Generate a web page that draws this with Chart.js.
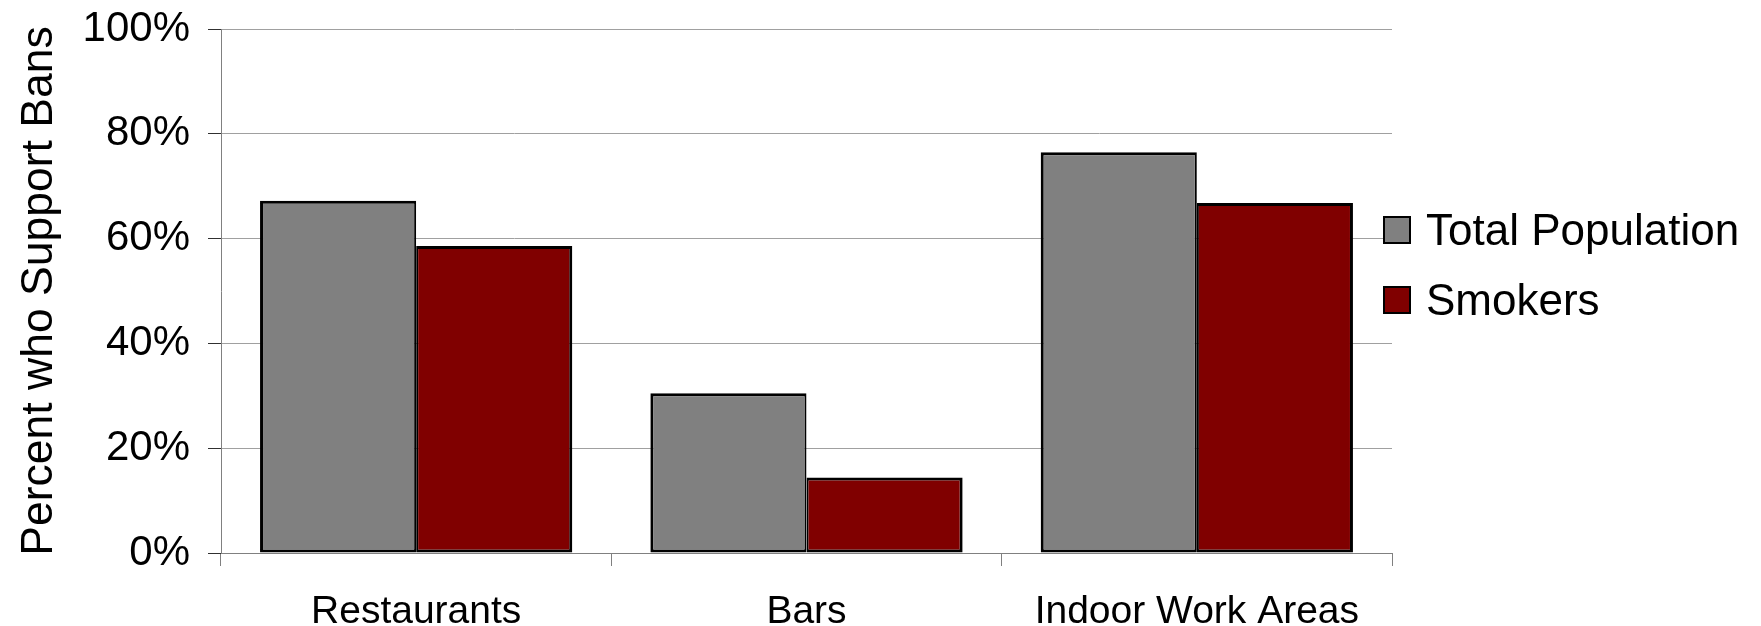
<!DOCTYPE html>
<html>
<head>
<meta charset="utf-8">
<title>Support for Smoking Bans</title>
<script src="https://cdn.jsdelivr.net/npm/chart.js@4.4.1/dist/chart.umd.min.js"></script>
<style>
  html, body { margin: 0; padding: 0; background: #ffffff; }
  #wrap { width: 1761px; height: 626px; position: relative; }
  canvas { display: block; }
</style>
</head>
<body>
<div id="wrap"><canvas id="chart" width="1761" height="626"></canvas></div>
<script>
// Categories and series values (percent who support bans)
const categories = ['Restaurants', 'Bars', 'Indoor Work Areas'];
const seriesNames = ['Total Population', 'Smokers'];
const totalPopulation = [67.2, 30.5, 76.5];
const smokers = [58.6, 14.4, 66.8];
const yTickValues = [0, 20, 40, 60, 80, 100];
const axisTitle = 'Percent who Support Bans';

const FONT = '"Liberation Sans", Arial, Helvetica, sans-serif';
const GRAY = '#808080';
const MAROON = '#800000';

// Legend drawn to the right of the plot, overlapping its edge slightly
const sideLegend = {
  id: 'sideLegend',
  afterDraw(chart, args, opts) {
    const ctx = chart.ctx;
    ctx.save();
    ctx.font = opts.fontSize + 'px ' + FONT;
    ctx.textBaseline = 'alphabetic';
    ctx.textAlign = 'left';
    chart.data.datasets.forEach((ds, i) => {
      const y = opts.top + i * opts.rowGap;
      ctx.fillStyle = ds.backgroundColor;
      ctx.fillRect(opts.left, y, opts.box, opts.box);
      ctx.lineWidth = 2;
      ctx.strokeStyle = '#000000';
      ctx.strokeRect(opts.left + 1, y + 1, opts.box - 2, opts.box - 2);
      ctx.fillStyle = '#000000';
      ctx.fillText(ds.label, opts.left + opts.box + opts.gap, y + opts.baseline);
    });
    ctx.restore();
  }
};

new Chart(document.getElementById('chart'), {
  type: 'bar',
  data: {
    labels: categories,
    datasets: [
      {
        label: seriesNames[0],
        data: totalPopulation,
        backgroundColor: GRAY,
        borderColor: '#000000',
        borderWidth: { left: 3, top: 3, bottom: 3, right: 2 },
        borderSkipped: false
      },
      {
        label: seriesNames[1],
        data: smokers,
        backgroundColor: MAROON,
        borderColor: '#000000',
        borderWidth: { left: 2, top: 3, bottom: 3, right: 3 },
        borderSkipped: false
      }
    ]
  },
  options: {
    responsive: false,
    devicePixelRatio: 1,
    animation: false,
    layout: { padding: { left: 0, top: 29, right: 369, bottom: 0 } },
    datasets: { bar: { categoryPercentage: 0.8, barPercentage: 1.0 } },
    plugins: {
      legend: { display: false },
      tooltip: { enabled: false },
      sideLegend: { left: 1383, top: 216, box: 28, gap: 15, rowGap: 70, baseline: 29, fontSize: 44 }
    },
    scales: {
      x: {
        grid: { offset: true, drawOnChartArea: false, drawTicks: true, tickLength: 13, color: '#808080', lineWidth: 1 },
        border: { display: true, color: '#808080', width: 1 },
        ticks: { color: '#000000', padding: 23, font: { family: FONT, size: 39 }, maxRotation: 0, autoSkip: false },
        afterFit(scale) { scale.height = 73; }
      },
      y: {
        min: 0,
        max: 100,
        afterBuildTicks(scale) { scale.ticks = yTickValues.map(v => ({ value: v })); },
        grid: { color: '#a0a0a0', lineWidth: 1, drawTicks: true, tickLength: 13, tickColor: '#303030' },
        border: { display: true, color: '#808080', width: 1 },
        ticks: {
          color: '#000000',
          padding: 18,
          font: { family: FONT, size: 42 },
          callback: v => v + '%'
        },
        title: {
          display: true,
          text: axisTitle,
          color: '#000000',
          font: { family: FONT, size: 44.5 },
          padding: { top: 13, bottom: 0 }
        },
        afterFit(scale) {
          scale.width = 221;
          // let the top/bottom labels overhang the plot instead of shrinking it
          scale.paddingTop = 0;
          scale.paddingBottom = 0;
        }
      }
    }
  },
  plugins: [sideLegend]
});
</script>
</body>
</html>
